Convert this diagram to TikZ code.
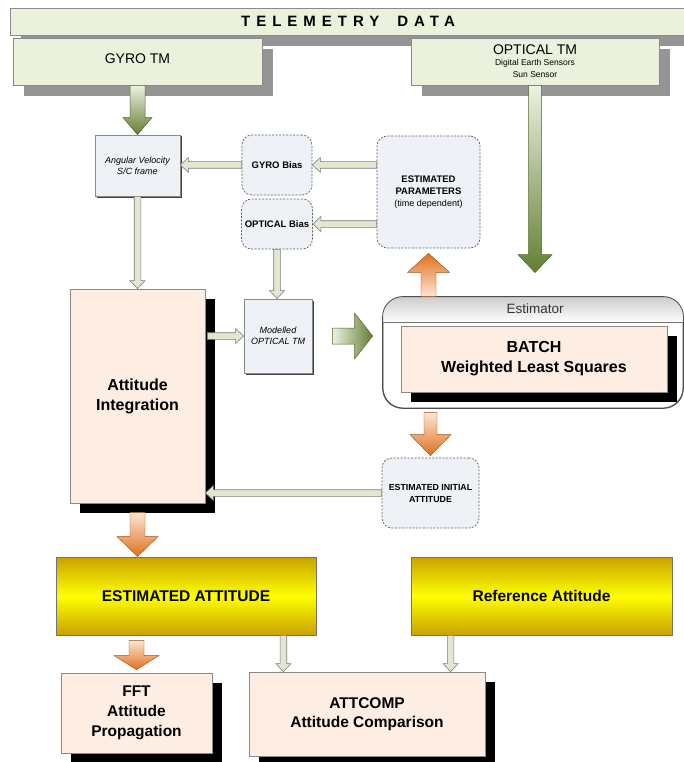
\documentclass[tikz,border=0pt]{standalone}
\usepackage{fontspec}
\setmainfont{Liberation Sans}
\newfontfamily\spacedfont[LetterSpace=40]{Liberation Sans}
\usetikzlibrary{calc,shadows}

\definecolor{panelgreen}{HTML}{EAF1DC}
\definecolor{panelborder}{HTML}{8A8A8A}
\definecolor{shadowgray}{HTML}{959595}
\definecolor{paleblue}{HTML}{EEF1F6}
\definecolor{peach}{HTML}{FDEDE3}
\definecolor{goldedge}{HTML}{C9A200}
\definecolor{goldmid}{HTML}{FFFF00}
\definecolor{thinfill}{HTML}{E3E6D0}
\definecolor{thinedge}{HTML}{7E7E7E}
\definecolor{greenlight}{HTML}{EDF1E0}
\definecolor{greendark}{HTML}{647F34}
\definecolor{orangelight}{HTML}{FDE6D4}
\definecolor{orangedark}{HTML}{E0701E}
\definecolor{dashedge}{HTML}{606060}

% #1 style, #2 from, #3 to, #4 shaft half width, #5 head half width, #6 head length
\newcommand\blockarrow[6]{%
  \coordinate (ba-s) at #2;
  \coordinate (ba-e) at #3;
  \coordinate (ba-h) at ($(ba-e)!#6!(ba-s)$);
  \path[#1] ($(ba-s)!#4!90:(ba-e)$) -- ($(ba-h)!#4!90:(ba-e)$) -- ($(ba-h)!#5!90:(ba-e)$)
    -- (ba-e) -- ($(ba-h)!#5!-90:(ba-e)$) -- ($(ba-h)!#4!-90:(ba-e)$) -- ($(ba-s)!#4!-90:(ba-e)$) -- cycle;
}

\tikzset{
  panel/.style={draw=panelborder, fill=panelgreen, line width=0.8pt,
    general shadow={fill=shadowgray, shadow xshift=11pt, shadow yshift=-11pt}, align=center},
  bluebox/.style={draw=panelborder, fill=paleblue, line width=0.8pt,
    general shadow={fill=black!75, shadow xshift=1.5pt, shadow yshift=-1.5pt},
    font=\fontsize{9}{11}\selectfont\itshape, align=center},
  dashbox/.style={draw=dashedge, fill=paleblue, dash pattern=on 2pt off 1.5pt,
    rounded corners=10pt, line width=0.7pt, align=center},
  peachbox/.style={draw=panelborder, fill=peach, line width=0.8pt,
    general shadow={fill=black, shadow xshift=10pt, shadow yshift=-10pt},
    align=center, font=\fontsize{16}{20}\selectfont\bfseries},
  goldbox/.style={draw=black!55, line width=0.8pt, top color=goldedge, bottom color=goldedge,
    middle color=goldmid, align=center, font=\fontsize{15.5}{19}\selectfont\bfseries},
  estedge/.style={draw=black!70, line width=0.8pt},
  thinarrow/.style={draw=thinedge, fill=thinfill, line width=0.6pt},
  greendown/.style={draw=greendark!80!black, line width=0.5pt, top color=greenlight, bottom color=greendark},
  greenright/.style={draw=greendark!80!black, line width=0.5pt, left color=greenlight, right color=greendark},
  orangedown/.style={draw=orangedark!70!black, line width=0.4pt, top color=orangelight, bottom color=orangedark},
  orangeup/.style={draw=orangedark!70!black, line width=0.4pt, top color=orangedark, bottom color=orangelight},
  smallbold/.style={font=\fontsize{9.5}{11.5}\selectfont\bfseries}
}

\begin{document}
\begin{tikzpicture}[x=1pt,y=-1pt]
\useasboundingbox (0,0) rectangle (684,762);
\fill[white] (0,0) rectangle (684,762);

% top row
\node[panel, minimum width=676pt, minimum height=27pt, inner sep=0pt] (tele) at (348,21.5)
  {\spacedfont\fontsize{15}{18}\selectfont\bfseries TELEMETRY\hspace{18pt}DATA};
\node[panel, minimum width=249pt, minimum height=47pt] (gyro) at (137.5,61.5)
  {\fontsize{14}{16}\selectfont\raisebox{5pt}{GYRO TM}};
\node[panel, minimum width=248pt, minimum height=47pt] (optical) at (535,61.5)
  {\fontsize{14}{14}\selectfont OPTICAL TM\\[-1pt]\fontsize{8.5}{9.5}\selectfont Digital Earth Sensors\\ \fontsize{8.5}{9.5}\selectfont Sun Sensor};

% middle blocks
\node[bluebox, minimum width=85pt, minimum height=61pt] (angvel) at (137.5,165.5) {Angular Velocity\\S/C frame};
\node[dashbox, smallbold, minimum width=70pt, minimum height=60pt] (gyrobias) at (277,165) {GYRO Bias};
\node[dashbox, smallbold, minimum width=70pt, minimum height=50pt] (optbias) at (277,224) {OPTICAL Bias};
\node[dashbox, minimum width=103pt, minimum height=112pt] (estparams) at (428.5,192)
  {\fontsize{9.5}{11}\selectfont\bfseries ESTIMATED\\ \fontsize{9.5}{11}\selectfont\bfseries PARAMETERS\\ \fontsize{9}{11}\selectfont (time dependent)};

\node[peachbox, minimum width=135pt, minimum height=214pt] (attint) at (137.5,396) {Attitude\\Integration};
\node[bluebox, minimum width=68pt, minimum height=74pt] (model) at (278,336) {Modelled\\OPTICAL TM};

% estimator
\node[estedge, fill=white, rounded corners=20pt, minimum width=300pt, minimum height=111pt] (est) at (533,352.5) {};
\begin{scope}
  \clip[rounded corners=20pt] (est.south west) rectangle (est.north east);
  \shade[top color=black!20, bottom color=white] (est.north west) rectangle ($(est.north east)+(0,26)$);
\end{scope}
\draw[estedge, rounded corners=20pt] (est.south west) rectangle (est.north east);
\draw[black!55, line width=0.7pt] ($(est.north west)+(0,26)$) -- ($(est.north east)+(0,26)$);
\node[font=\fontsize{13.5}{16}\selectfont, text=black!80] (esttitle) at ($(est.north)+(2,12.5)$) {Estimator};
\node[peachbox, minimum width=266pt, minimum height=66pt] (batch) at (534,359) {BATCH\\Weighted Least Squares};

\node[dashbox, minimum width=97pt, minimum height=70pt] (estinit) at (430.5,493)
  {\fontsize{8.8}{11}\selectfont\bfseries ESTIMATED INITIAL\\ \fontsize{8.8}{11}\selectfont\bfseries ATTITUDE};

% bottom
\node[goldbox, minimum width=260pt, minimum height=78pt] (estatt) at (186,596) {ESTIMATED ATTITUDE};
\node[goldbox, minimum width=261pt, minimum height=78pt] (refatt) at (541.5,596) {Reference Attitude};
\node[peachbox, font=\fontsize{15.5}{20}\selectfont\bfseries, minimum width=151pt, minimum height=80pt] (fft) at (136.5,713) {FFT\\Attitude\\Propagation};
\node[peachbox, font=\fontsize{15.5}{19}\selectfont\bfseries, minimum width=236pt, minimum height=84pt] (attcomp) at (367,714) {ATTCOMP\\Attitude Comparison};

% big arrows
\coordinate (gye) at (gyro.south |- angvel.north);
\blockarrow{greendown}{(gyro.south)}{(gye)}{7.5pt}{14.5pt}{17pt}
\coordinate (optend) at ($(est.north -| optical.south)+(0,-24)$);
\blockarrow{greendown}{(optical.south)}{(optend)}{6.5pt}{17pt}{18pt}
\coordinate (grs) at ($(model.east)+(20,0)$);
\coordinate (gre) at ($(est.west |- model.east)+(-10,0)$);
\blockarrow{greenright}{(grs)}{(gre)}{8pt}{23pt}{18pt}

\coordinate (ous) at (estparams.south |- est.north);
\coordinate (oue) at ($(estparams.south)+(0,5)$);
\blockarrow{orangeup}{(ous)}{(oue)}{7.5pt}{21pt}{19pt}
\coordinate (ods) at ($(estinit.north |- est.south)+(0,4)$);
\coordinate (ode) at ($(estinit.north)+(0,-2)$);
\blockarrow{orangedown}{(ods)}{(ode)}{6.5pt}{20.5pt}{21pt}
\coordinate (oas) at ($(attint.south)+(0,9)$);
\coordinate (oae) at (estatt.north -| attint.south);
\blockarrow{orangedown}{(oas)}{(oae)}{7.5pt}{20.5pt}{20pt}
\coordinate (ofs) at ($(estatt.south -| fft.north)+(0,5)$);
\coordinate (ofe) at ($(fft.north)+(0,-3)$);
\blockarrow{orangedown}{(ofs)}{(ofe)}{7.5pt}{22.5pt}{14pt}

% thin arrows
\blockarrow{thinarrow}{(estparams.west |- gyrobias.east)}{(gyrobias.east)}{3.3pt}{7.5pt}{8pt}
\blockarrow{thinarrow}{(estparams.west |- optbias.east)}{(optbias.east)}{3.3pt}{7.5pt}{8pt}
\coordinate (gae) at (angvel.east |- gyrobias.west);
\blockarrow{thinarrow}{(gyrobias.west)}{(gae)}{3.3pt}{7.5pt}{8pt}
\coordinate (aae) at (angvel.south |- attint.north);
\blockarrow{thinarrow}{(angvel.south)}{(aae)}{3.3pt}{7.5pt}{8pt}
\coordinate (obe) at (optbias.south |- model.north);
\blockarrow{thinarrow}{(optbias.south)}{(obe)}{3.3pt}{7.5pt}{8pt}
\coordinate (ams) at ($(attint.east |- model.west)+(2,0)$);
\blockarrow{thinarrow}{(ams)}{(model.west)}{3.3pt}{7.5pt}{8pt}
\coordinate (eie) at (attint.east |- estinit.west);
\blockarrow{thinarrow}{(estinit.west)}{(eie)}{3.3pt}{7.5pt}{8pt}
\coordinate (c1s) at ($(estatt.south east)+(-33,0)$);
\coordinate (c1e) at (c1s |- attcomp.north);
\blockarrow{thinarrow}{(c1s)}{(c1e)}{3.3pt}{7.5pt}{8pt}
\coordinate (c2s) at ($(refatt.south west)+(40,0)$);
\coordinate (c2e) at (c2s |- attcomp.north);
\blockarrow{thinarrow}{(c2s)}{(c2e)}{3.3pt}{7.5pt}{8pt}
\end{tikzpicture}
\end{document}
